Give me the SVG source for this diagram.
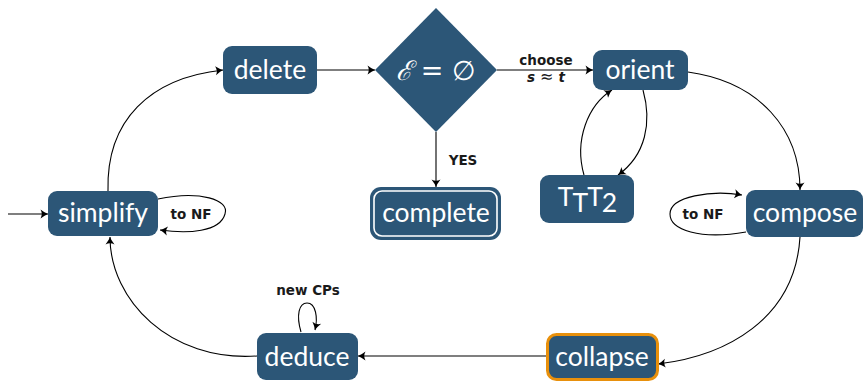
<svg xmlns="http://www.w3.org/2000/svg" width="867" height="381" viewBox="0 0 867 381">
  <style>
    .node { fill: #2c5677; }
    .ntext { fill: #ffffff; font-family: "Lato", "Open Sans", sans-serif; font-size: 26.5px; text-anchor: middle; }
    .edge { fill: none; stroke: #000; stroke-width: 1.1; marker-end: url(#arr); }
    .lbl { fill: #1a1a1a; font-family: "DejaVu Sans", sans-serif; font-weight: bold; font-size: 13.5px; text-anchor: middle; }
  </style>
  <defs>
    <marker id="arr" viewBox="-8 -5 10 10" refX="0" refY="0" markerWidth="10" markerHeight="10" orient="auto" markerUnits="userSpaceOnUse">
      <path d="M-7.5,-4.5 Q-3,-1 0,0 Q-3,1 -7.5,4.5 Q-5,0 -7.5,-4.5Z" fill="#000"/>
    </marker>
  </defs>
  <rect width="867" height="381" fill="#ffffff"/>

  <!-- connectors -->
  <g id="edges">
    <path class="edge" d="M8,214 L48,214"/>
    <path class="edge" d="M108,191 C106,120 150,78 223,70"/>
    <path class="edge" d="M317,70 L375,70"/>
    <path class="edge" d="M497,70 L593,70"/>
    <path class="edge" d="M436,132 L436,187"/>
    <path class="edge" d="M688,72 C760,82 800,130 800,190"/>
    <path class="edge" d="M800,237 C795,320 725,356 658,364"/>
    <path class="edge" d="M546,356 L358,356"/>
    <path class="edge" d="M257,356 C170,362 110,300 110,237"/>
    <path class="edge" d="M584,175 C574,140 588,105 612,90"/>
    <path class="edge" d="M643,90 C652,122 646,155 618,175"/>
    <path class="edge" d="M158,199 C200,190 230,200 225,214 C220,232 188,234 160,230"/>
    <path class="edge" d="M746,232 C700,240 670,230 670,214 C670,196 712,190 742,195"/>
    <path class="edge" d="M301,332 C296,315 299,303 307,303 C316,303 318,318 315,330"/>
    <text class="lbl" x="546" y="65">choose</text>
    <text class="lbl" x="546" y="82"><tspan font-style="italic">s</tspan><tspan font-weight="normal" font-size="16px"> ≈ </tspan><tspan font-style="italic">t</tspan></text>
    <text class="lbl" x="463" y="165">YES</text>
    <text class="lbl" x="191" y="219">to NF</text>
    <text class="lbl" x="703" y="219">to NF</text>
    <text class="lbl" x="308" y="295">new CPs</text>
  </g>

  <g id="delete">
    <rect class="node" x="223" y="46" width="94" height="48" rx="9"/>
    <text class="ntext" x="270" y="79">delete</text>
  </g>

  <g id="empty-check">
    <polygon class="node" points="436,8 497,70 436,132 375,70"/>
    <text x="436" y="80" fill="#fff" font-family="DejaVu Serif, serif" font-size="27px" text-anchor="middle"><tspan font-style="italic">ℰ</tspan> = ∅</text>
  </g>

  <g id="orient">
    <rect class="node" x="593" y="50" width="95" height="40" rx="9"/>
    <text class="ntext" x="640" y="79">orient</text>
  </g>

  <g id="complete">
    <rect class="node" x="370" y="187" width="131" height="53" rx="11"/>
    <rect x="374" y="191" width="123" height="45" rx="8" fill="none" stroke="#fff" stroke-width="1.6"/>
    <text class="ntext" x="436" y="222">complete</text>
  </g>

  <g id="ttt2">
    <rect class="node" x="540" y="175" width="94" height="48" rx="9"/>
    <text class="ntext" x="587" y="206" font-size="27px" letter-spacing="-1">T<tspan dy="6">T</tspan><tspan dy="-6">T</tspan><tspan dy="6">2</tspan></text>
  </g>

  <g id="simplify">
    <rect class="node" x="48" y="191" width="110" height="45" rx="9"/>
    <text class="ntext" x="103" y="222">simplify</text>
  </g>

  <g id="compose">
    <rect class="node" x="746" y="190" width="117" height="47" rx="9"/>
    <text class="ntext" x="805" y="222">compose</text>
  </g>

  <g id="deduce">
    <rect class="node" x="257" y="333" width="101" height="47" rx="9"/>
    <text class="ntext" x="307" y="366">deduce</text>
  </g>

  <g id="collapse">
    <rect class="node" x="547.5" y="334.5" width="110" height="45" rx="9" stroke="#e8900c" stroke-width="3"/>
    <text class="ntext" x="602" y="366">collapse</text>
  </g>
</svg>
